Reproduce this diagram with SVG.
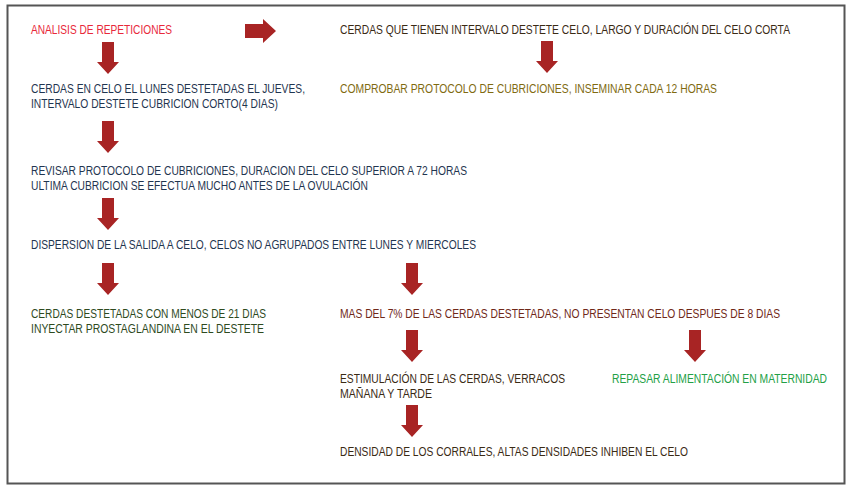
<svg xmlns="http://www.w3.org/2000/svg" width="850" height="490" viewBox="0 0 850 490">
<style>
text{font-family:"Liberation Sans",Arial,sans-serif;font-size:12px}
.ar{fill:#a82424}
.nv{fill:#1f3550}.rd{fill:#e8283a}.dk{fill:#3a2a14}.ol{fill:#806a10}.gr{fill:#2e4a1e}.br{fill:#702818}.lg{fill:#22a046}
</style>
<defs>
<path id="d" d="M-6,0 H6 V20 H11 L0,32 L-11,20 H-6 Z"/>
</defs>
<rect x="0" y="0" width="850" height="490" fill="#fff"/>
<rect x="7.5" y="5.5" width="837" height="478" fill="#fff" stroke="#555" stroke-width="2"/>
<g id="connectors">
<path class="ar" d="M245,24 H263 V19 L276,31 L263,43 V38 H245 Z"/>
<use href="#d" class="ar" x="108" y="42"/>
<use href="#d" class="ar" x="547" y="41"/>
<use href="#d" class="ar" x="108" y="121"/>
<use href="#d" class="ar" x="108" y="198"/>
<use href="#d" class="ar" x="108" y="263"/>
<use href="#d" class="ar" x="412" y="263"/>
<use href="#d" class="ar" x="412" y="330"/>
<use href="#d" class="ar" x="695" y="330"/>
<use href="#d" class="ar" x="412" y="405"/>
</g>
<g id="n1"><text class="rd" x="31" y="34" textLength="141" lengthAdjust="spacingAndGlyphs">ANALISIS DE REPETICIONES</text></g>
<g id="n2"><text class="dk" x="340" y="34" textLength="450" lengthAdjust="spacingAndGlyphs">CERDAS QUE TIENEN INTERVALO DESTETE CELO, LARGO Y DURACIÓN DEL CELO CORTA</text></g>
<g id="n3"><text class="nv" x="31" y="93" textLength="274" lengthAdjust="spacingAndGlyphs">CERDAS EN CELO EL LUNES DESTETADAS EL JUEVES,</text><text class="nv" x="31" y="108" textLength="247" lengthAdjust="spacingAndGlyphs">INTERVALO DESTETE CUBRICION CORTO(4 DIAS)</text></g>
<g id="n4"><text class="ol" x="340" y="93" textLength="377" lengthAdjust="spacingAndGlyphs">COMPROBAR PROTOCOLO DE CUBRICIONES, INSEMINAR CADA 12 HORAS</text></g>
<g id="n5"><text class="nv" x="31" y="175" textLength="436" lengthAdjust="spacingAndGlyphs">REVISAR PROTOCOLO DE CUBRICIONES, DURACION DEL CELO SUPERIOR A 72 HORAS</text><text class="nv" x="31" y="190" textLength="337" lengthAdjust="spacingAndGlyphs">ULTIMA CUBRICION SE EFECTUA MUCHO ANTES DE LA OVULACIÓN</text></g>
<g id="n6"><text class="nv" x="31" y="249" textLength="445" lengthAdjust="spacingAndGlyphs">DISPERSION DE LA SALIDA A CELO, CELOS NO AGRUPADOS ENTRE LUNES Y MIERCOLES</text></g>
<g id="n7"><text class="gr" x="31" y="318" textLength="235" lengthAdjust="spacingAndGlyphs">CERDAS DESTETADAS CON MENOS DE 21 DIAS</text><text class="gr" x="31" y="333" textLength="233" lengthAdjust="spacingAndGlyphs">INYECTAR PROSTAGLANDINA EN EL DESTETE</text></g>
<g id="n8"><text class="br" x="340" y="318" textLength="440" lengthAdjust="spacingAndGlyphs">MAS DEL 7% DE LAS CERDAS DESTETADAS, NO PRESENTAN CELO DESPUES DE 8 DIAS</text></g>
<g id="n9"><text class="dk" x="340" y="383" textLength="225" lengthAdjust="spacingAndGlyphs">ESTIMULACIÓN DE LAS CERDAS, VERRACOS</text><text class="dk" x="340" y="398" textLength="92" lengthAdjust="spacingAndGlyphs">MAÑANA Y TARDE</text></g>
<g id="n10"><text class="lg" x="612" y="383" textLength="215" lengthAdjust="spacingAndGlyphs">REPASAR ALIMENTACIÓN EN MATERNIDAD</text></g>
<g id="n11"><text class="dk" x="340" y="456" textLength="348" lengthAdjust="spacingAndGlyphs">DENSIDAD DE LOS CORRALES, ALTAS DENSIDADES INHIBEN EL CELO</text></g>
</svg>
